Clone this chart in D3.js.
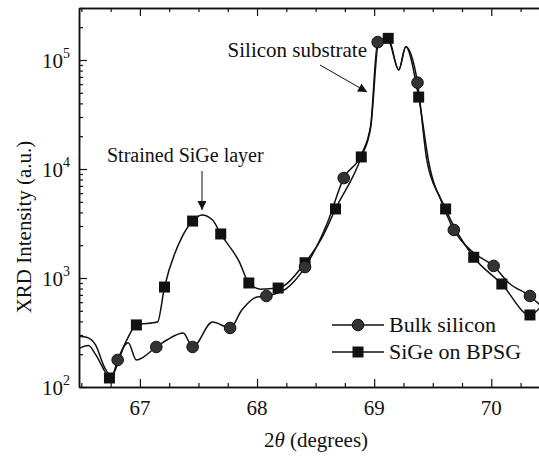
<!DOCTYPE html>
<html>
<head>
<meta charset="utf-8">
<script src="https://cdn.jsdelivr.net/npm/d3@7"></script>
</head>
<body style="margin:0">
<script>
// Bulk silicon curve (2theta, counts)
var bulkAngle = [66.49, 66.55, 66.62, 66.70, 66.76, 66.81, 66.90, 66.97, 67.14, 67.23, 67.37, 67.45, 67.62, 67.77, 67.87, 68.00, 68.08, 68.25, 68.41, 68.60, 68.74, 68.89, 68.97, 69.03, 69.12, 69.21, 69.27, 69.37, 69.45, 69.56, 69.68, 69.85, 70.02, 70.15, 70.33, 70.42];
var bulkIntensity = [290, 285, 245, 150, 125, 177, 254, 177, 233, 270, 313, 233, 394, 348, 508, 670, 684, 800, 1260, 3200, 8260, 13500, 25000, 146000, 150000, 81000, 132000, 62000, 12000, 5500, 2760, 1700, 1290, 900, 684, 560];
var bulkMarkAngle = [66.81, 67.14, 67.45, 67.77, 68.08, 68.41, 68.74, 69.03, 69.37, 69.68, 70.02, 70.33];
var bulkMarkIntensity = [177, 233, 233, 348, 684, 1260, 8260, 146000, 62000, 2760, 1290, 684];

// SiGe on BPSG curve
var sigeAngle = [66.49, 66.56, 66.62, 66.70, 66.74, 66.88, 66.97, 67.15, 67.21, 67.36, 67.45, 67.53, 67.62, 67.69, 67.85, 67.93, 68.03, 68.18, 68.41, 68.55, 68.67, 68.89, 68.97, 69.04, 69.12, 69.21, 69.27, 69.38, 69.47, 69.61, 69.85, 70.09, 70.33, 70.42];
var sigeIntensity = [228, 240, 200, 140, 121, 260, 371, 394, 826, 2380, 3330, 3785, 3400, 2535, 1400, 900, 790, 809, 1380, 2300, 4300, 12900, 24000, 150000, 158000, 81000, 132000, 45700, 11000, 4300, 1550, 881, 458, 540];
var sigeMarkAngle = [66.74, 66.97, 67.21, 67.45, 67.69, 67.93, 68.18, 68.41, 68.67, 68.89, 69.12, 69.38, 69.61, 69.85, 70.09, 70.33];
var sigeMarkIntensity = [121, 371, 826, 3330, 2535, 900, 809, 1380, 4300, 12900, 158000, 45700, 4300, 1550, 881, 458];

var xMajorTicks = [67, 68, 69, 70];
var yMajorTicks = [1e2, 1e3, 1e4, 1e5];
var seriesNames = ["Bulk silicon", "SiGe on BPSG"];

var width = 539, height = 457;
var ink = "#111";
var serif = '"Liberation Serif"';

var x = d3.scaleLinear().domain([66.48, 70.45]).range([79, 544]);
var y = d3.scaleLog().domain([100, 3e5]).range([387, 8]);

var svg = d3.select("body").append("svg")
	.attr("width", width)
	.attr("height", height);

var defs = svg.append("defs");
defs.append("marker")
	.attr("id", "arrow")
	.attr("viewBox", "0 0 10 10")
	.attr("refX", 10).attr("refY", 5)
	.attr("markerWidth", 10).attr("markerHeight", 9)
	.attr("markerUnits", "userSpaceOnUse")
	.attr("orient", "auto")
	.append("path")
	.attr("d", "M0,0L10,5L0,10Z")
	.attr("fill", ink);

var plot = svg.append("g");

// minor ticks
var xMinor = d3.range(66.5, 70.5, 0.25).filter(v => xMajorTicks.indexOf(v) < 0);
var yMinor = [];
[100, 1000, 10000, 100000].forEach(d => {
	for (var k = 2; k <= 9; k++) if (d * k <= 3e5) yMinor.push(d * k);
});

function tickFmt() { return ""; }

// bottom axis, ticks pointing inward
plot.append("g")
	.attr("transform", `translate(0,${y(100)})`)
	.call(d3.axisBottom(x).tickValues(xMajorTicks).tickSize(-8).tickSizeOuter(0).tickFormat(tickFmt));
plot.append("g")
	.attr("transform", `translate(0,${y(100)})`)
	.call(d3.axisBottom(x).tickValues(xMinor).tickSize(-4).tickSizeOuter(0).tickFormat(tickFmt));
// top axis
plot.append("g")
	.attr("transform", `translate(0,${y(3e5)})`)
	.call(d3.axisTop(x).tickValues(xMajorTicks).tickSize(-8).tickSizeOuter(0).tickFormat(tickFmt));
plot.append("g")
	.attr("transform", `translate(0,${y(3e5)})`)
	.call(d3.axisTop(x).tickValues(xMinor).tickSize(-4).tickSizeOuter(0).tickFormat(tickFmt));
// left axis
plot.append("g")
	.attr("transform", `translate(${x.range()[0]},0)`)
	.call(d3.axisLeft(y).tickValues(yMajorTicks).tickSize(-8).tickSizeOuter(0).tickFormat(tickFmt));
plot.append("g")
	.attr("transform", `translate(${x.range()[0]},0)`)
	.call(d3.axisLeft(y).tickValues(yMinor).tickSize(-4).tickSizeOuter(0).tickFormat(tickFmt));

plot.selectAll(".domain").attr("stroke", ink).attr("stroke-width", 1.5);
plot.selectAll(".tick line").attr("stroke", ink).attr("stroke-width", 1.2);

// tick labels
plot.append("g").selectAll("text")
	.data(xMajorTicks)
	.enter().append("text")
	.attr("x", d => x(d))
	.attr("y", y(100) + 28)
	.attr("text-anchor", "middle")
	.attr("font-size", 21)
	.attr("fill", ink)
	.text(d => d);

var yLab = plot.append("g").selectAll("text")
	.data(yMajorTicks)
	.enter().append("text")
	.attr("x", 70)
	.attr("y", d => y(d) + 8)
	.attr("text-anchor", "end")
	.attr("font-size", 21)
	.attr("fill", ink);
yLab.append("tspan").text("10");
yLab.append("tspan")
	.attr("dy", -10)
	.attr("font-size", 14)
	.text(d => Math.round(Math.log10(d)));

// axis titles
var xt = svg.append("text")
	.attr("x", 316).attr("y", 447)
	.attr("text-anchor", "middle")
	.attr("font-size", 21)
	.attr("fill", ink);
xt.append("tspan").text("2");
xt.append("tspan").attr("font-style", "italic").text("θ");
xt.append("tspan").text(" (degrees)");

svg.append("text")
	.attr("transform", "translate(31,227) rotate(-90)")
	.attr("text-anchor", "middle")
	.attr("font-size", 21)
	.attr("fill", ink)
	.text("XRD Intensity (a.u.)");

// curves
var line = d3.line()
	.x(d => x(d[0]))
	.y(d => y(d[1]))
	.curve(d3.curveMonotoneX);

defs.append("clipPath").attr("id", "clip")
	.append("rect")
	.attr("x", x.range()[0]).attr("y", y.range()[1])
	.attr("width", x.range()[1] - x.range()[0])
	.attr("height", y.range()[0] - y.range()[1]);

var curves = plot.append("g").attr("clip-path", "url(#clip)");

curves.append("path")
	.datum(d3.zip(bulkAngle, bulkIntensity))
	.attr("d", line)
	.attr("fill", "none")
	.attr("stroke", ink)
	.attr("stroke-width", 1.5);

curves.append("path")
	.datum(d3.zip(sigeAngle, sigeIntensity))
	.attr("d", line)
	.attr("fill", "none")
	.attr("stroke", ink)
	.attr("stroke-width", 1.5);

curves.selectAll(".sq")
	.data(d3.zip(sigeMarkAngle, sigeMarkIntensity))
	.enter().append("rect")
	.attr("class", "sq")
	.attr("x", d => x(d[0]) - 5.5)
	.attr("y", d => y(d[1]) - 5.5)
	.attr("width", 11).attr("height", 11)
	.attr("fill", ink);

curves.selectAll(".ci")
	.data(d3.zip(bulkMarkAngle, bulkMarkIntensity))
	.enter().append("circle")
	.attr("class", "ci")
	.attr("cx", d => x(d[0]))
	.attr("cy", d => y(d[1]))
	.attr("r", 5.8)
	.attr("fill", "#333")
	.attr("stroke", ink)
	.attr("stroke-width", 1);

// annotations
svg.append("text")
	.attr("x", 107).attr("y", 162)
	.attr("font-size", 20)
	.attr("fill", ink)
	.text("Strained SiGe layer");
svg.append("line")
	.attr("x1", x(67.53)).attr("y1", 171)
	.attr("x2", x(67.53)).attr("y2", y(4200))
	.attr("stroke", ink).attr("stroke-width", 1)
	.attr("marker-end", "url(#arrow)");

svg.append("text")
	.attr("x", 367).attr("y", 57)
	.attr("text-anchor", "end")
	.attr("font-size", 21)
	.attr("fill", ink)
	.text("Silicon substrate");
svg.append("line")
	.attr("x1", 320).attr("y1", 65)
	.attr("x2", x(68.94)).attr("y2", y(50800))
	.attr("stroke", ink).attr("stroke-width", 1)
	.attr("marker-end", "url(#arrow)");

// legend
var legend = svg.append("g").attr("transform", "translate(332,325)");
var rows = legend.selectAll("g")
	.data(seriesNames)
	.enter().append("g")
	.attr("transform", (d, i) => `translate(0,${i * 27})`);
rows.append("line")
	.attr("x1", 0).attr("x2", 52)
	.attr("stroke", ink).attr("stroke-width", 1.5);
rows.filter((d, i) => i === 0).append("circle")
	.attr("cx", 26).attr("r", 5.8)
	.attr("fill", "#333").attr("stroke", ink);
rows.filter((d, i) => i === 1).append("rect")
	.attr("x", 20.5).attr("y", -5.5)
	.attr("width", 11).attr("height", 11)
	.attr("fill", ink);
rows.append("text")
	.attr("x", 57).attr("y", 7)
	.attr("font-size", 22)
	.attr("fill", ink)
	.text(d => d);

// serif face on every label, then force a layout pass so the font is resolved
svg.selectAll("text").style("font-family", serif);
svg.selectAll("text").each(function() { this.getComputedTextLength(); });
</script>
</body>
</html>
